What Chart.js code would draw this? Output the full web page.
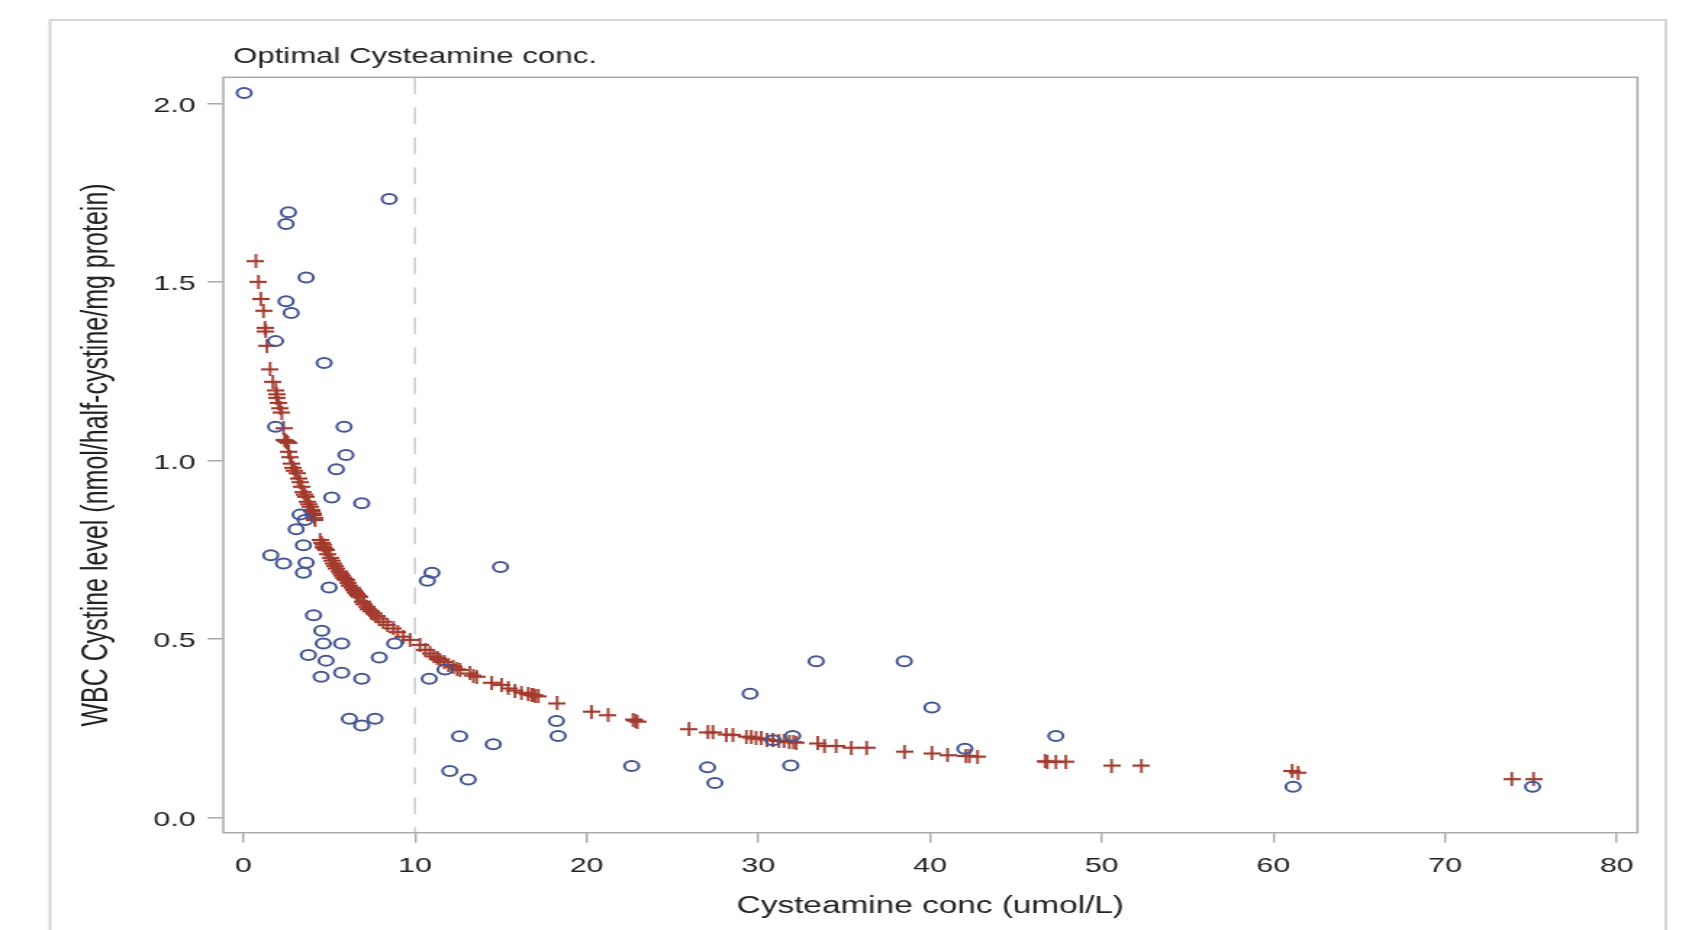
<!DOCTYPE html>
<html>
<head>
<meta charset="utf-8">
<title>Optimal Cysteamine conc.</title>
<script src="https://cdn.jsdelivr.net/npm/chart.js@4.4.1/dist/chart.umd.min.js"></script>
<style>
  html, body { margin: 0; padding: 0; background: #fff; overflow: hidden; }
  /* the source picture is stretched sideways, so draw narrow and stretch */
  #wrap { width: 1167px; height: 930px; transform: scaleX(1.44987); transform-origin: 0 0; }
</style>
</head>
<body>
<div id="wrap"><canvas id="chart"></canvas></div>
<script>
const chartTitle = 'Optimal Cysteamine conc.';
const xTitle = 'Cysteamine conc (umol/L)';
const yTitle = 'WBC Cystine level (nmol/half-cystine/mg protein)';

const xTicks = [0, 10, 20, 30, 40, 50, 60, 70, 80];
const yTicks = [0, 0.5, 1.0, 1.5, 2.0];
const refLineX = 10;

// observed WBC cystine (circles)
const obsX = [0.05, 8.5, 2.63, 2.49, 3.66, 2.49, 2.79, 1.88, 4.71, 5.87, 1.88, 5.98, 5.42, 5.15, 6.90,
  3.31, 3.60, 3.08, 3.50, 1.60, 2.34, 3.66, 3.50, 5.00, 10.99, 10.72, 14.98, 4.09, 4.57, 4.66,
  5.73, 3.79, 4.82, 7.92, 8.82, 4.53, 5.73, 6.90, 10.83, 11.75, 6.18, 6.90, 7.67, 12.6, 14.56,
  12.03, 13.10, 18.24, 18.34, 22.62, 27.04, 27.47, 29.52, 30.86, 32.0, 31.89, 33.37, 38.5, 40.11,
  42.03, 47.33, 61.15, 75.1];
const obsY = [2.03, 1.733, 1.696, 1.663, 1.513, 1.447, 1.414, 1.335, 1.274, 1.095, 1.095, 1.016, 0.976, 0.897, 0.881,
  0.849, 0.834, 0.808, 0.763, 0.735, 0.712, 0.714, 0.686, 0.645, 0.686, 0.664, 0.702, 0.567, 0.524, 0.488,
  0.488, 0.456, 0.440, 0.449, 0.488, 0.395, 0.406, 0.389, 0.389, 0.415, 0.277, 0.258, 0.277, 0.228, 0.206,
  0.131, 0.107, 0.271, 0.229, 0.145, 0.141, 0.097, 0.347, 0.217, 0.229, 0.146, 0.438, 0.438, 0.309,
  0.193, 0.229, 0.087, 0.087];

// predicted cystine (plus signs)
const predX = [0.73, 0.88, 1.02, 1.17, 1.26, 1.30, 1.37, 1.56, 1.72, 1.90, 1.93, 1.96, 2.05, 2.15, 2.24,
  2.34, 2.40, 2.47, 2.54, 2.60, 2.63, 2.72, 2.82, 2.90, 3.00, 3.11, 3.20, 3.30, 3.41, 3.50,
  3.58, 3.66, 3.75, 3.82, 3.89, 3.95, 4.00, 4.05, 4.09, 4.14, 4.18, 4.47, 4.55, 4.62, 4.70,
  4.78, 4.86, 4.95, 5.05, 5.15, 5.25, 5.35, 5.45, 5.55, 5.64, 5.75, 5.85, 5.95, 6.03, 6.12,
  6.22, 6.32, 6.41, 6.50, 6.60, 6.70, 6.80, 6.95, 7.05, 7.19, 7.30, 7.45, 7.58, 7.75, 7.90,
  8.15, 8.40, 8.74, 9.00, 9.32, 9.71, 10.29, 10.60, 10.87, 11.10, 11.30, 11.45, 11.70, 11.95, 12.23,
  12.45, 12.62, 13.20, 13.40, 13.59, 14.46, 15.04, 15.43, 15.82, 16.20, 16.59, 16.80, 16.88, 17.00, 17.18,
  18.28, 20.28, 21.25, 22.70, 22.85, 22.95, 25.96, 27.06, 27.35, 28.13, 28.52, 29.30, 29.59, 29.87, 30.17,
  30.50, 30.84, 31.20, 31.50, 31.80, 32.05, 32.20, 33.46, 33.85, 34.53, 35.41, 36.31, 38.51, 40.11, 41.02,
  42.09, 42.29, 42.77, 46.70, 46.82, 47.33, 47.91, 50.57, 52.31, 61.09, 61.44, 73.89, 75.15];
const predY = [1.559, 1.501, 1.453, 1.420, 1.372, 1.362, 1.322, 1.256, 1.221, 1.197, 1.186, 1.176, 1.162, 1.147, 1.135,
  1.091, 1.058, 1.056, 1.053, 1.050, 1.025, 1.010, 0.992, 0.980, 0.972, 0.965, 0.950, 0.940, 0.927, 0.912,
  0.905, 0.899, 0.885, 0.878, 0.871, 0.862, 0.858, 0.852, 0.848, 0.840, 0.834, 0.778, 0.770, 0.765, 0.758,
  0.754, 0.750, 0.738, 0.728, 0.720, 0.712, 0.705, 0.698, 0.690, 0.684, 0.678, 0.672, 0.668, 0.666, 0.658,
  0.650, 0.644, 0.638, 0.632, 0.627, 0.622, 0.619, 0.605, 0.598, 0.591, 0.584, 0.578, 0.572, 0.565, 0.558,
  0.549, 0.540, 0.530, 0.520, 0.507, 0.498, 0.484, 0.470, 0.460, 0.452, 0.447, 0.442, 0.436, 0.428, 0.423,
  0.416, 0.414, 0.404, 0.398, 0.395, 0.378, 0.372, 0.362, 0.356, 0.350, 0.346, 0.344, 0.343, 0.342, 0.340,
  0.320, 0.297, 0.287, 0.275, 0.272, 0.269, 0.248, 0.239, 0.239, 0.233, 0.232, 0.227, 0.225, 0.222, 0.222,
  0.219, 0.217, 0.215, 0.214, 0.212, 0.212, 0.210, 0.208, 0.201, 0.201, 0.196, 0.196, 0.185, 0.180, 0.175,
  0.173, 0.173, 0.171, 0.158, 0.157, 0.157, 0.157, 0.146, 0.146, 0.131, 0.126, 0.108, 0.108];

const family = '"Liberation Sans", Arial, sans-serif';
const textColor = '#222';
const axisColor = '#a9a9a9';

// plus marker a bit taller than wide, like the SAS one after the stretch
function plusMarker(w, h, color) {
  const c = document.createElement('canvas');
  c.width = w; c.height = h;
  const g = c.getContext('2d');
  g.fillStyle = color;
  g.fillRect(0, h / 2 - 1.1, w, 2.2);
  g.fillRect(w / 2 - 0.9, 0, 1.8, h);
  return c;
}

const framePlugin = {
  id: 'frame',
  beforeDraw(chart) {
    const ctx = chart.ctx;
    ctx.save();
    ctx.strokeStyle = '#d6d6d6';
    ctx.lineWidth = 2;
    ctx.strokeRect(34.5, 20, 1149 - 34.5, 960);
    ctx.restore();
  },
  beforeDatasetsDraw(chart) {
    const { ctx, chartArea: a, scales } = chart;
    const px = scales.x.getPixelForValue(refLineX);
    ctx.save();
    ctx.strokeStyle = '#cfcfcf';
    ctx.lineWidth = 1.6;
    ctx.setLineDash([17, 13]);
    ctx.beginPath();
    ctx.moveTo(px, a.top);
    ctx.lineTo(px, a.bottom);
    ctx.stroke();
    ctx.restore();
  },
  afterDraw(chart) {
    const { ctx, chartArea: a } = chart;
    ctx.save();
    ctx.strokeStyle = axisColor;
    ctx.lineWidth = 1.5;
    ctx.strokeRect(a.left, a.top, a.right - a.left, a.bottom - a.top);
    ctx.fillStyle = textColor;
    ctx.font = '21.5px ' + family;
    ctx.textBaseline = 'middle';
    ctx.textAlign = 'left';
    ctx.fillText(chartTitle, 160.7, 57);
    ctx.restore();
  }
};

const ctx = document.getElementById('chart').getContext('2d');
new Chart(ctx, {
  type: 'scatter',
  data: {
    datasets: [
      {
        label: 'Observed',
        data: obsX.map((x, i) => ({ x: x, y: obsY[i] })),
        pointStyle: 'circle',
        pointRadius: 5,
        pointBorderWidth: 2,
        borderColor: '#445694',
        backgroundColor: 'rgba(0,0,0,0)'
      },
      {
        label: 'Predicted',
        data: predX.map((x, i) => ({ x: x, y: predY[i] })),
        pointStyle: plusMarker(12, 14, '#A23A2E'),
        pointRadius: 7,
        borderColor: '#A23A2E',
        backgroundColor: '#A23A2E'
      }
    ]
  },
  options: {
    responsive: true,
    maintainAspectRatio: false,
    animation: false,
    events: [],
    layout: { padding: { left: 48, top: 77.3, right: 37.6, bottom: 5.8 } },
    plugins: {
      legend: { display: false },
      tooltip: { enabled: false },
      title: { display: false }
    },
    scales: {
      x: {
        type: 'linear',
        min: -1.165,
        max: 81.21,
        afterBuildTicks: s => { s.ticks = xTicks.map(v => ({ value: v })); },
        afterFit: s => { s.height = 91.5; },
        border: { display: false },
        grid: { drawOnChartArea: false, tickLength: 10, color: axisColor, lineWidth: 1.4 },
        ticks: {
          color: textColor, padding: 10.5, maxRotation: 0, autoSkip: false,
          font: { size: 21, family: family },
          callback: v => String(v)
        },
        title: {
          display: true, text: xTitle, color: textColor,
          font: { size: 23, family: family }, padding: { top: 4, bottom: 4 }
        }
      },
      y: {
        type: 'linear',
        min: -0.042,
        max: 2.074,
        afterBuildTicks: s => { s.ticks = yTicks.map(v => ({ value: v })); },
        afterFit: s => { s.width = 106; },
        border: { display: false },
        grid: { drawOnChartArea: false, tickLength: 11, color: axisColor, lineWidth: 1.5 },
        ticks: {
          color: textColor, padding: 8, autoSkip: false, labelOffset: 2,
          font: { size: 21, family: family },
          callback: v => Number(v).toFixed(1)
        },
        title: {
          display: true, text: yTitle, color: textColor,
          font: { size: 25, family: family }, padding: { top: 4, bottom: 4 }
        }
      }
    }
  },
  plugins: [framePlugin]
});
</script>
</body>
</html>
